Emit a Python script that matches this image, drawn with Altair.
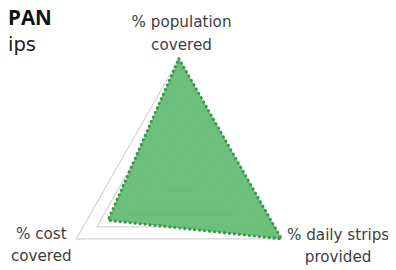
import math
import altair as alt
import pandas as pd

# ---- data ----
categories = ["% population\ncovered", "% daily strips\nprovided", "% cost\ncovered"]
angles_deg = [90, -30, 210]          # radar spoke directions
values = [1.0, 1.0, 0.69]            # Japan series (share of 100%)
grid_levels = [0.2, 0.4, 0.6, 0.8, 1.0]
label_radius = [1.261, 1.436, 1.264]  # where category labels sit (radius units)
label_angle_deg = [89, -20.7, 203.3]
title_lines = ["PAN", "ips"]

# ---- build tables ----
def pts(level_vals):
    rows = []
    seq = list(zip(level_vals, angles_deg)) + [(level_vals[0], angles_deg[0])]
    for i, (v, a) in enumerate(seq):
        r = math.radians(a)
        rows.append({"x": v * math.cos(r), "y": v * math.sin(r), "o": i})
    return rows

grid_rows = []
for lv in grid_levels:
    for p in pts([lv] * 3):
        p["level"] = lv
        grid_rows.append(p)
grid_df = pd.DataFrame(grid_rows)
series_df = pd.DataFrame(pts(values))

lab_rows = []
for c, r, a in zip(categories, label_radius, label_angle_deg):
    t = math.radians(a)
    lab_rows.append({"x": r * math.cos(t), "y": r * math.sin(t), "label": c})
lab_df = pd.DataFrame(lab_rows)

W, H = 388, 262
xs = alt.Scale(domain=[-1.4421, 1.7645], nice=False, zero=False)
ys = alt.Scale(domain=[-0.7359, 1.3993], nice=False, zero=False)
X = alt.X("x:Q", scale=xs, axis=None)
Y = alt.Y("y:Q", scale=ys, axis=None)

grid = alt.Chart(grid_df).mark_line(color="#d9d2d5", strokeWidth=1.2).encode(
    x=X, y=Y, order="o:Q", detail="level:N"
)

series = alt.Chart(series_df).mark_line(
    fill="#5cb96e", fillOpacity=0.9, stroke="#3a984c", strokeWidth=3.2,
    strokeDash=[0.1, 5], strokeCap="round", strokeJoin="round"
).encode(x=X, y=Y, order="o:Q")

labels = alt.Chart(lab_df).mark_text(
    font="DejaVu Sans", fontSize=15.5, color="#404040", lineBreak="\n",
    lineHeight=23, align="center", baseline="alphabetic"
).encode(x=X, y=Y, text="label:N")

t1 = alt.Chart(pd.DataFrame({"t": [title_lines[0]]})).mark_text(
    font="Open Sans", fontSize=21, fontWeight="bold", color="#111111",
    align="left", baseline="alphabetic"
).encode(x=alt.value(0), y=alt.value(15), text="t:N")

t2 = alt.Chart(pd.DataFrame({"t": [title_lines[1]]})).mark_text(
    font="DejaVu Sans", fontSize=20, color="#222222",
    align="left", baseline="alphabetic"
).encode(x=alt.value(0), y=alt.value(41), text="t:N")

chart = alt.layer(grid, series, labels, t1, t2).properties(
    width=W, height=H, autosize=alt.AutoSizeParams(type="none"), padding=0
).configure_view(stroke=None)

chart.save("out.html", embed_options={"renderer": "svg", "actions": False})
